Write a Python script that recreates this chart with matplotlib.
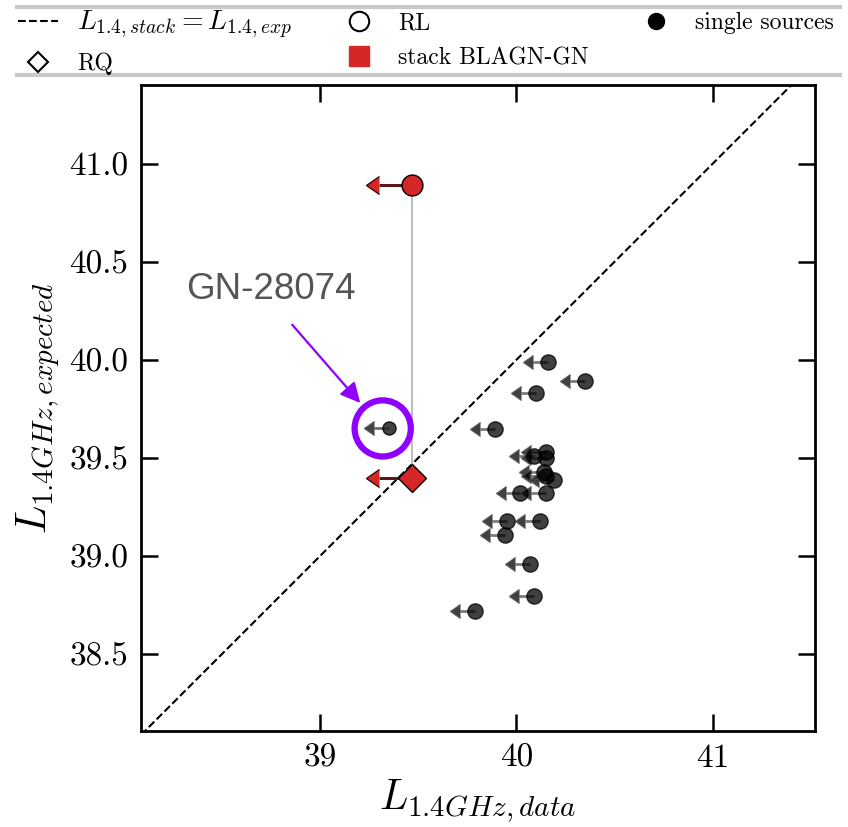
import numpy as np
import matplotlib.pyplot as plt
from matplotlib.lines import Line2D
from matplotlib.patches import Circle

# single sources (upper limits in L_1.4GHz,data)
single_x = [40.16, 40.35, 40.10, 39.89, 40.15, 40.09, 40.15, 40.14, 40.15, 40.19,
            40.02, 40.15, 39.95, 40.12, 39.94, 40.07, 40.09, 39.79]
single_y = [39.99, 39.89, 39.83, 39.65, 39.53, 39.51, 39.50, 39.43, 39.41, 39.39,
            39.32, 39.32, 39.18, 39.18, 39.11, 38.96, 38.80, 38.72]
single_xerr = 0.075

# highlighted source
gn_name = 'GN-28074'
gn_x = 39.35
gn_y = 39.655

# stacked BLAGN-GN values
stack_x = 39.47
stack_rl_y = 40.89
stack_rq_y = 39.40
stack_xerr = 0.17

xlim = (38.09, 41.52)
ylim = (38.11, 41.40)

red = '#d62728'
purple = '#8f00ff'


def drop_caps(eb):
    # errorbar puts a '|' cap on the open end, the reference has none
    for cl in eb[1]:
        if cl.get_marker() == '|':
            cl.set_visible(False)


plt.rcParams['mathtext.fontset'] = 'cm'
fig = plt.figure(figsize=(8.48, 8.27), dpi=100)
ax = fig.add_axes([0.1663, 0.1161, 0.7948, 0.7811])

# one-to-one line
ax.plot(xlim, xlim, 'k--', lw=1.5, zorder=1)

# single sources
eb = ax.errorbar(single_x, single_y, xerr=single_xerr, xuplims=True, fmt='o',
                 ms=11, color='black', mec='black', alpha=0.75, ecolor='#505050',
                 elinewidth=2.0, capsize=5.0, zorder=3)
drop_caps(eb)
eb = ax.errorbar([gn_x], [gn_y], xerr=single_xerr, xuplims=True, fmt='o',
                 ms=9.4, color='#222222', mec='black', alpha=0.85, ecolor='#505050',
                 elinewidth=2.0, capsize=5.0, zorder=3)
drop_caps(eb)

# stacks
ax.plot([stack_x, stack_x], [stack_rq_y, stack_rl_y], color='#b0b0b0', lw=1.2, zorder=2)
for yv, mk, ms in [(stack_rl_y, 'o', 15), (stack_rq_y, 'D', 14)]:
    eb = ax.errorbar([stack_x], [yv], xerr=stack_xerr, xuplims=True, fmt=mk,
                     ms=ms, color=red, mec='black', mew=1.0, ecolor='#5c1515',
                     elinewidth=2.2, capsize=6.3, zorder=4)
    drop_caps(eb)
    for cl in eb[1]:
        cl.set_markerfacecolor(red)
        cl.set_markeredgecolor('#3a0a0a')
        cl.set_markeredgewidth(1.0)

# annotation of GN-28074
ax.add_patch(Circle((gn_x - 0.03, gn_y - 0.004), 0.143, fill=False, ec=purple, lw=4.5, zorder=5))
ax.annotate('', xy=(39.215, 39.77), xytext=(38.85, 40.19),
            arrowprops=dict(arrowstyle='-|>', color=purple, lw=1.6, mutation_scale=30))
ax.text(38.32, 40.31, gn_name, fontsize=26.5, color='#555555', family='Liberation Sans',
        va='baseline', ha='left')

ax.set_xlim(xlim)
ax.set_ylim(ylim)
ax.set_xticks([39, 40, 41])
ax.set_yticks([38.5, 39.0, 39.5, 40.0, 40.5, 41.0])
ax.set_xticklabels(['39', '40', '41'])
ax.set_yticklabels(['%.1f' % v for v in [38.5, 39.0, 39.5, 40.0, 40.5, 41.0]])
ax.tick_params(direction='in', length=12, width=1.8, top=True, right=True,
               labelsize=24, pad=9, labelfontfamily='cmr10')
for sp in ax.spines.values():
    sp.set_linewidth(2.0)

ax.set_xlabel(r'$L_{1.4GHz,data}$', fontsize=30, labelpad=4)
ax.set_ylabel(r'$L_{1.4GHz,expected}$', fontsize=30, labelpad=6)

# legend on top
handles = [
    Line2D([], [], color='k', ls='--', lw=1.5),
    Line2D([], [], ls='none', marker='D', ms=9.7, mfc='white', mec='black', mew=1.5),
    Line2D([], [], ls='none', marker='o', ms=14, mfc='white', mec='black', mew=1.5),
    Line2D([], [], ls='none', marker='s', ms=15, mfc=red, mec=red),
    Line2D([], [], ls='none', marker='o', ms=11.5, mfc='black', mec='black'),
]
labels = [r'$L_{1.4,stack} = L_{1.4,exp}$', 'RQ', 'RL', 'stack BLAGN-GN', 'single sources']
leg = fig.legend(handles, labels, loc='upper left', bbox_to_anchor=(0.021, 0.99),
                 ncol=3, frameon=False, borderpad=0, borderaxespad=0,
                 handlelength=1.7, handletextpad=0.8, columnspacing=2.0, labelspacing=0.55,
                 prop={'family': 'cmr10', 'size': 17})
leg.get_texts()[0].set_fontsize(20)
for yy in [0.991, 0.909]:
    fig.add_artist(Line2D([0.02, 0.99], [yy, yy], color='#c8c8c8', lw=3,
                          transform=fig.transFigure))

fig.savefig('out.png', dpi=100)
